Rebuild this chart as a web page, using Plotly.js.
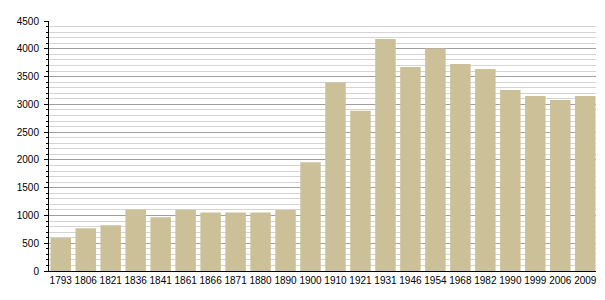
<!DOCTYPE html>
<html>
<head>
<meta charset="utf-8">
<script src="https://cdn.plot.ly/plotly-3.0.1.min.js"></script>
<style>html,body{margin:0;padding:0;background:#fff;}#chart{width:605px;height:300px;}</style>
</head>
<body>
<div id="chart"></div>
<script>
const years = ["1793","1806","1821","1836","1841","1861","1866","1871","1880","1890","1900","1910","1921","1931","1946","1954","1968","1982","1990","1999","2006","2009"];
const population = [597,770,822,1105,968,1102,1054,1054,1054,1100,1957,3395,2883,4177,3671,4005,3724,3635,3256,3148,3076,3150];
const yTickValues = [0,500,1000,1500,2000,2500,3000,3500,4000,4500];

const trace = {
  type: 'bar',
  x: years,
  y: population,
  marker: {color: '#cbc097', line: {width: 0}},
  hoverinfo: 'x+y'
};

const layout = {
  width: 605,
  height: 300,
  margin: {l: 49, r: 9, t: 21, b: 29, pad: 0},
  paper_bgcolor: '#ffffff',
  plot_bgcolor: '#ffffff',
  bargap: 0.18,
  showlegend: false,
  font: {family: 'Liberation Sans, Arial, sans-serif', size: 10, color: '#000'},
  xaxis: {
    type: 'category',
    range: [-0.47, 21.43],
    showline: true,
    linecolor: '#000',
    linewidth: 1,
    ticks: '',
    showgrid: false,
    zeroline: false,
    tickfont: {size: 10, color: '#000'},
    fixedrange: true
  },
  yaxis: {
    range: [0, 4500],
    tickvals: yTickValues,
    ticktext: yTickValues.map(String),
    showline: true,
    linecolor: '#000',
    linewidth: 1,
    ticks: 'outside',
    ticklen: 4,
    tickcolor: '#000',
    tickwidth: 1,
    ticklabelstandoff: 3,
    showgrid: true,
    gridcolor: '#a0a0a0',
    gridwidth: 1,
    zeroline: false,
    tickfont: {size: 10, color: '#000'},
    minor: {
      dtick: 100,
      showgrid: true,
      gridcolor: '#d4d4d4',
      gridwidth: 1,
      ticks: 'outside',
      ticklen: 2,
      tickcolor: '#000'
    },
    fixedrange: true
  }
};

Plotly.newPlot('chart', [trace], layout, {displayModeBar: false, staticPlot: true});
</script>
</body>
</html>
